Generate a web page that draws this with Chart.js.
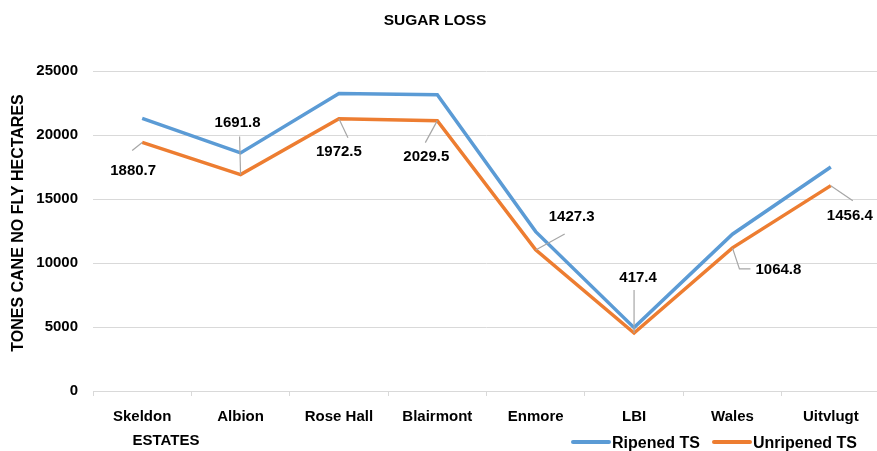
<!DOCTYPE html>
<html>
<head>
<meta charset="utf-8">
<title>Sugar Loss</title>
<script src="https://cdn.jsdelivr.net/npm/chart.js@4"></script>
<style>
  html, body { margin: 0; padding: 0; background: #fff; overflow: hidden; }
  canvas { display: block; }
</style>
</head>
<body>
<canvas id="lineChart" width="890" height="451"></canvas>
<script>
// data
const estates = ["Skeldon", "Albion", "Rose Hall", "Blairmont", "Enmore", "LBI", "Wales", "Uitvlugt"];
const ripened = [21300, 18600, 23250, 23150, 12450, 4950, 12250, 17500];
const unripened = [19419.3, 16908.2, 21277.5, 21120.5, 11022.7, 4532.6, 11185.2, 16043.6];
const sugarLoss = [1880.7, 1691.8, 1972.5, 2029.5, 1427.3, 417.4, 1064.8, 1456.4];
const seriesNames = ["Ripened TS", "Unripened TS"];

// where each loss label sits relative to its orange point (label centre + leader line)
const labelOffsets = [
  { dx: -9, dy: 28, lead: [[-10, 8]] },
  { dx: -3, dy: -52, lead: [[-1, -38]] },
  { dx: 0, dy: 33, lead: [[9, 19]] },
  { dx: -11, dy: 36, lead: [[-12, 22]] },
  { dx: 36, dy: -33, lead: [[29, -16]] },
  { dx: 4, dy: -55, lead: [[0, -43]] },
  { dx: 46, dy: 22, lead: [[7, 21], [18, 21]] },
  { dx: 19, dy: 30, lead: [[22, 15]] }
];

const BLUE = "#5B9BD5";
const ORANGE = "#ED7D31";
const FONT = "'Liberation Sans', Arial, sans-serif";

// loss labels with leader lines
const lossLabels = {
  id: "lossLabels",
  afterDatasetsDraw(chart) {
    const ctx = chart.ctx;
    const pts = chart.getDatasetMeta(1).data;
    ctx.save();
    pts.forEach((p, i) => {
      const o = labelOffsets[i];
      ctx.strokeStyle = "#a6a6a6";
      ctx.lineWidth = 1.2;
      ctx.beginPath();
      ctx.moveTo(p.x, p.y);
      o.lead.forEach(l => ctx.lineTo(p.x + l[0], p.y + l[1]));
      ctx.stroke();
      ctx.fillStyle = "#000";
      ctx.font = "bold 15px " + FONT;
      ctx.textAlign = "center";
      ctx.textBaseline = "middle";
      ctx.fillText(sugarLoss[i].toFixed(1), p.x + o.dx, p.y + o.dy);
    });
    ctx.restore();
  }
};

// title, axis titles and legend
const extraText = {
  id: "extraText",
  afterDraw(chart) {
    const ctx = chart.ctx;
    ctx.save();
    ctx.fillStyle = "#000";
    ctx.textBaseline = "middle";
    ctx.textAlign = "center";

    ctx.font = "bold 15.5px " + FONT;
    ctx.fillText("SUGAR LOSS", 435, 21);

    ctx.font = "bold 15px " + FONT;
    ctx.fillText("ESTATES", 166, 441);

    ctx.save();
    ctx.translate(19, 223);
    ctx.rotate(-Math.PI / 2);
    ctx.font = "bold 16px " + FONT;
    ctx.fillText("TONES CANE NO FLY HECTARES", 0, 0);
    ctx.restore();

    // legend
    ctx.font = "bold 16px " + FONT;
    ctx.textAlign = "left";
    let x = 573;
    chart.data.datasets.forEach(ds => {
      ctx.strokeStyle = ds.borderColor;
      ctx.lineWidth = 4;
      ctx.lineCap = "round";
      ctx.beginPath();
      ctx.moveTo(x, 442);
      ctx.lineTo(x + 36, 442);
      ctx.stroke();
      ctx.fillText(ds.label, x + 39, 444);
      x += 39 + ctx.measureText(ds.label).width + 14;
    });
    ctx.restore();
  }
};

new Chart(document.getElementById("lineChart"), {
  type: "line",
  data: {
    labels: estates,
    datasets: [
      {
        label: seriesNames[0],
        data: ripened,
        borderColor: BLUE,
        backgroundColor: BLUE,
        borderWidth: 3.5,
        pointRadius: 0,
        tension: 0
      },
      {
        label: seriesNames[1],
        data: unripened,
        borderColor: ORANGE,
        backgroundColor: ORANGE,
        borderWidth: 3.5,
        pointRadius: 0,
        tension: 0
      }
    ]
  },
  options: {
    responsive: false,
    animation: false,
    layout: { padding: { top: 71, right: 10, left: 0, bottom: 0 } },
    plugins: {
      legend: { display: false },
      title: { display: false },
      tooltip: { enabled: false }
    },
    scales: {
      x: {
        offset: true,
        afterFit(scale) { scale.height = 60; },
        grid: {
          offset: true,
          drawOnChartArea: false,
          drawTicks: true,
          tickLength: 5,
          color: "#d9d9d9"
        },
        border: { color: "#d9d9d9" },
        ticks: {
          color: "#000",
          padding: 12,
          maxRotation: 0,
          autoSkip: false,
          font: { family: FONT, size: 15, weight: "bold" }
        }
      },
      y: {
        min: 0,
        max: 25000,
        afterFit(scale) { scale.width = 93; },
        grid: { color: "#d9d9d9", drawTicks: false },
        border: { display: false },
        ticks: {
          stepSize: 5000,
          color: "#000",
          padding: 15,
          callback: v => String(v),
          font: { family: FONT, size: 15, weight: "bold" }
        }
      }
    }
  },
  plugins: [lossLabels, extraText]
});
</script>
</body>
</html>
